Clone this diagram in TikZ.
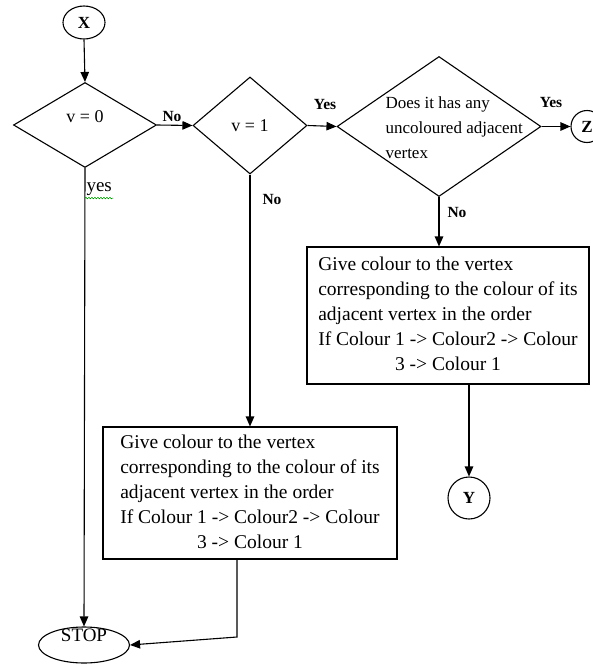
\documentclass[tikz,border=0pt]{standalone}
\usepackage{fontspec}
\setmainfont{Liberation Serif}
\usetikzlibrary{shapes.geometric, arrows.meta, decorations.pathmorphing}

\begin{document}
\begin{tikzpicture}[x=1pt, y=-1pt, line width=1.1pt,
  decision/.style={diamond, draw, inner sep=0pt, font=\fontsize{18}{25}\selectfont},
  action/.style={rectangle, draw, inner sep=0pt, font=\fontsize{19.5}{25}\selectfont},
  term/.style={ellipse, draw, inner sep=0pt},
  yn/.style={font=\fontsize{15.5}{18}\selectfont\bfseries},
  flow/.style={-{Triangle[length=10pt,width=8.5pt]}}]
 \useasboundingbox (0,0) rectangle (592,664);
%
 \node[term, minimum width=42pt, minimum height=33pt, font=\fontsize{17}{20}\selectfont\bfseries] (xc) at (84,22.5) {X};
 \node[decision, minimum width=143pt, minimum height=85pt] (q0) at (85,125) {\raisebox{2.5pt}[0pt][0pt]{v = 0}};
 \node[decision, minimum width=114pt, minimum height=97pt] (q1) at (250,125.5) {v = 1};
 \node[decision, minimum width=204pt, minimum height=140pt] (q3) at (439,126.5) {};
 \node[anchor=west, align=left, inner sep=0pt, font=\fontsize{17}{25}\selectfont] (q3txt) at (385,128)
  {Does it has any\\uncoloured adjacent\\vertex};
 \node[circle, draw, inner sep=0pt, minimum size=32pt, font=\fontsize{17}{20}\selectfont\bfseries] (zc) at (587,126.5) {Z};
%
 \node[action, minimum width=282pt, minimum height=137pt] (box1) at (448,315.5)
  {\begin{tabular}{@{}l@{}}
   Give colour to the vertex\\
   corresponding to the colour of its\\
   adjacent vertex in the order\\
   If Colour 1 -> Colour2 -> Colour\\
   \multicolumn{1}{@{}c@{}}{3 -> Colour 1}
  \end{tabular}};
 \node[circle, draw, inner sep=0pt, minimum size=42pt, font=\fontsize{17}{20}\selectfont\bfseries] (yc) at (469,498) {Y};
 \node[action, minimum width=294pt, minimum height=132pt] (box2) at (250,493)
  {\begin{tabular}{@{}l@{}}
   Give colour to the vertex\\
   corresponding to the colour of its\\
   adjacent vertex in the order\\
   If Colour 1 -> Colour2 -> Colour\\
   \multicolumn{1}{@{}c@{}}{3 -> Colour 1}
  \end{tabular}};
 \node[term, minimum width=91pt, minimum height=36pt, font=\fontsize{19}{20}\selectfont] (stop) at (84,645) {\raisebox{3.5pt}[0pt][0pt]{STOP}};
%
 \draw[flow] (xc.south) -- (q0.north);
 \draw[flow] (q0.east) -- (q1.west);
 \draw[flow] (q0.south) -- (stop.north);
 \draw[flow] (q1.east) -- (q3.west);
 \draw[flow] (q1.south) -- (q1.south |- box2.north);
 \draw[flow] (q3.east) -- (zc.west);
 \draw[flow] (q3.south) -- (q3.south |- box1.north);
 \draw[flow] (yc.north |- box1.south) -- (yc.north);
 \coordinate (b2out) at (237,637);
 \draw[flow] (b2out |- box2.south) -- (b2out) -- (stop.east);
%
 \node[yn] (no0) at (172,116) {No};
 \node[yn] (no1) at (272,199) {No};
 \node[yn] (yes1) at (325,104) {Yes};
 \node[yn] (yes3) at (551,102) {Yes};
 \node[yn] (no3) at (457,212) {No};
 \node[anchor=west, inner sep=1pt, font=\fontsize{19}{20}\selectfont] (yes0) at (85,189) {yes};
 \draw[green!60!black, line width=0.6pt, decorate, decoration={snake, amplitude=0.7pt, segment length=3pt}]
  ([yshift=-1pt]yes0.south west) -- ([yshift=-1pt]yes0.south east);
\end{tikzpicture}
\end{document}
